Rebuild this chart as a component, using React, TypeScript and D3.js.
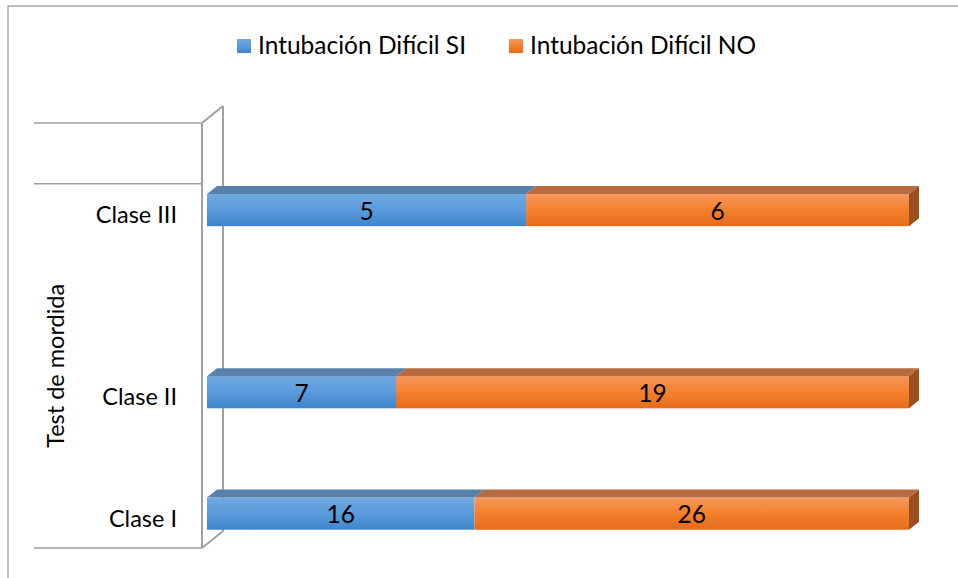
import React from 'react';
import * as d3 from 'd3';

// slots on the category axis (empty ones are blank rows of the source sheet)
const categories = ['Clase I', '', 'Clase II', '', '', 'Clase III', ''];
const siValues = [16, 0, 7, 0, 0, 5, 0];
const noValues = [26, 0, 19, 0, 0, 6, 0];
const groupLabels = ['Test de mordida', ''];
const groupSpans = [6, 1];
const seriesNames = ['Intubación Difícil SI', 'Intubación Difícil NO'];

const W = 958;
const H = 578;
const FONT = 'Lato, "Open Sans", sans-serif';

const App = () => {
  const rows = categories.map((c, i) => ({ idx: i, label: c, si: siValues[i], no: noValues[i] }));

  const y = d3.scaleBand<number>()
    .domain(d3.range(categories.length))
    .range([548, 123]);
  const x = d3.scaleLinear().domain([0, 1]).range([202, 904]);

  const stack = d3.stack<any>()
    .keys(['si', 'no'])
    .offset(d3.stackOffsetExpand);
  const stacked = stack(rows.filter(r => r.si + r.no > 0));

  const wallDx = 21, wallDy = -17;
  const barOffX = 5, barOffY = -4;
  const barDx = 10, barDy = -8;
  const barH = y.bandwidth() * 0.53;

  const faces = [
    { front: 'url(#gBlue)', top: '#5781aa', side: '#3a6a9c' },
    { front: 'url(#gOrange)', top: '#b96b40', side: '#9c4e1c' },
  ];

  const x0 = x(0);
  const [yBottom, yTop] = y.range();

  // group boundaries for the multi-level axis
  let acc = 0;
  const boundaries = [yBottom];
  const groupCenters: number[] = [];
  groupSpans.forEach(s => {
    const start = y(acc)! + y.bandwidth();
    acc += s;
    const end = y(acc - 1)!;
    boundaries.push(end);
    groupCenters.push((start + end) / 2);
  });

  return (
    <svg width={W} height={H} style={{ position: 'absolute', left: 0, top: 0, background: '#fff' }}>
      <defs>
        <linearGradient id="gBlue" x1="0" y1="0" x2="0" y2="1">
          <stop offset="0%" stopColor="#70a9e0" />
          <stop offset="50%" stopColor="#5a9bdd" />
          <stop offset="100%" stopColor="#3f84ca" />
        </linearGradient>
        <linearGradient id="gOrange" x1="0" y1="0" x2="0" y2="1">
          <stop offset="0%" stopColor="#f6975c" />
          <stop offset="50%" stopColor="#f5802c" />
          <stop offset="100%" stopColor="#e56b1b" />
        </linearGradient>
      </defs>

      {/* chart frame */}
      <rect x={8} y={6} width={W} height={H} fill="none" stroke="#a6a6a6" strokeWidth={1.5} />

      {/* legend */}
      {seriesNames.map((name, i) => {
        const lx = [237, 509][i];
        return (
          <g key={name}>
            <rect x={lx} y={39} width={14} height={14} fill={i === 0 ? 'url(#gBlue)' : 'url(#gOrange)'} />
            <text x={lx + 21} y={54} fontFamily={FONT} fontSize={24.5} fill="#000">{name}</text>
          </g>
        );
      })}

      {/* axis wall */}
      <g stroke="#a0a0a0" strokeWidth={2} fill="none">
        <line x1={x0} y1={yTop} x2={x0} y2={yBottom} />
        <line x1={x0 + wallDx} y1={yTop + wallDy} x2={x0 + wallDx} y2={yBottom + wallDy} />
        <line x1={x0} y1={yTop} x2={x0 + wallDx} y2={yTop + wallDy} />
        <line x1={x0} y1={yBottom} x2={x0 + wallDx} y2={yBottom + wallDy} />
      </g>

      {/* multi-level category dividers */}
      {boundaries.map((b, i) => (
        <line key={i} x1={34} y1={b} x2={x0} y2={b} stroke="#a0a0a0" strokeWidth={1.5} />
      ))}

      {/* category labels */}
      {rows.filter(r => r.label).map(r => (
        <text key={r.idx} x={177} y={y(r.idx)! + y.bandwidth() / 2} dominantBaseline="central"
          textAnchor="end" fontFamily={FONT} fontSize={23.5} fill="#000">{r.label}</text>
      ))}

      {groupLabels.map((g, i) => g && (
        <text key={i} transform={`translate(55,${groupCenters[i]}) rotate(-90)`} textAnchor="middle"
          dominantBaseline="central" fontFamily={FONT} fontSize={23.5} fill="#000">{g}</text>
      ))}

      {/* bars */}
      {stacked.map((series, si) => (
        <g key={series.key}>
          {series.map((d: any) => {
            const r = d.data;
            const ft = y(r.idx)! + y.bandwidth() / 2 - barH / 2 + barOffY;
            const fx0 = x(d[0]) + barOffX;
            const fx1 = x(d[1]) + barOffX;
            const top = [[fx0, ft], [fx1, ft], [fx1 + barDx, ft + barDy], [fx0 + barDx, ft + barDy]];
            const side = [[fx1, ft], [fx1 + barDx, ft + barDy], [fx1 + barDx, ft + barDy + barH], [fx1, ft + barH]];
            const val = r[series.key];
            return (
              <g key={r.idx}>
                <rect x={fx0} y={ft} width={fx1 - fx0} height={barH} fill={faces[si].front} />
                <polygon points={top.join(' ')} fill={faces[si].top} />
                {si === stacked.length - 1 && <polygon points={side.join(' ')} fill={faces[si].side} />}
                <text x={(fx0 + fx1) / 2} y={ft + barH / 2} textAnchor="middle" dominantBaseline="central"
                  fontFamily={FONT} fontSize={24.5} fill="#000">{val}</text>
              </g>
            );
          })}
        </g>
      ))}
    </svg>
  );
};

export default App;
